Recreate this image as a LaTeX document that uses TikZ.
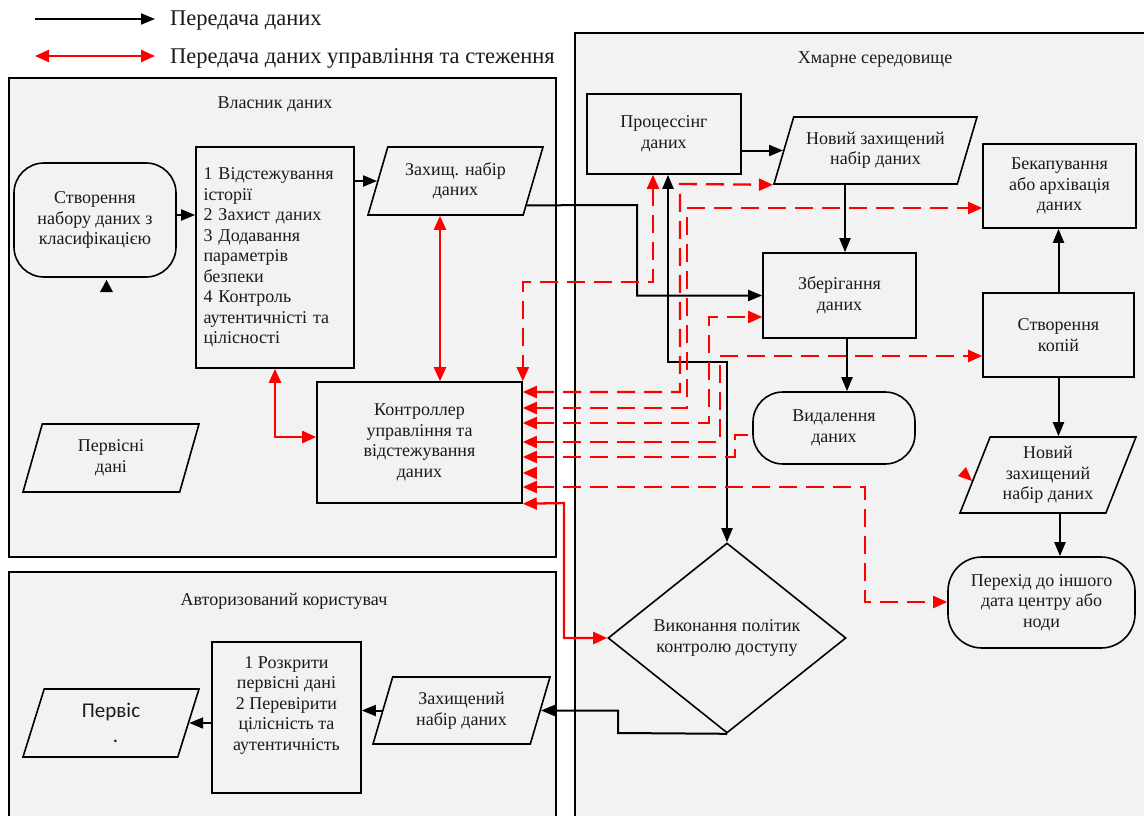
\documentclass[tikz,border=0pt]{standalone}
\usepackage{fontspec}
\setmainfont{Liberation Serif}
\newfontfamily\calibrifont{Carlito}
\usetikzlibrary{shapes.geometric,arrows.meta,calc}
\definecolor{panel}{HTML}{F2F2F2}
\definecolor{ctlred}{HTML}{FF0000}
\definecolor{ink}{HTML}{1A1A1A}

\tikzset{
  bodytext/.style={font=\fontsize{18}{20.5}\selectfont, text=ink},
  container/.style={draw=black, line width=1.6pt, fill=panel, rectangle, inner sep=0pt},
  titletext/.style={font=\fontsize{18}{21}\selectfont, text=ink, inner sep=0pt},
  legendtext/.style={font=\fontsize{22.5}{26}\selectfont, text=ink, inner sep=0pt, anchor=west},
  shapebox/.style={draw=black, line width=1.6pt, fill=panel, inner sep=1pt, align=center, bodytext},
  rectbox/.style={shapebox, rectangle},
  stadium/.style={shapebox, rectangle, rounded corners=#1},
  para/.style={shapebox, trapezium, trapezium left angle=63, trapezium right angle=117,
               trapezium stretches body},
  sz/.style 2 args={minimum width=#1, minimum height=#2},
  tipb/.tip={Triangle[length=14pt,width=11pt]},
  tipr/.tip={Triangle[length=14pt,width=12pt]},
  blk/.style={draw=black, line width=2pt, -tipb},
  blkboth/.style={draw=black, line width=2pt, tipb-tipb},
  rdboth/.style={draw=ctlred, line width=2.3pt, tipr-tipr},
  rddash/.style={rdboth, dash pattern=on 18pt off 9pt},
  rddashone/.style={draw=ctlred, line width=2.3pt, tipr-, dash pattern=on 18pt off 9pt},
  rdonly/.style={draw=ctlred, line width=2.3pt, -tipr},
}

\begin{document}
\begin{tikzpicture}[x=1pt,y=-1pt]
\useasboundingbox (0,0) rectangle (1144,816);
\clip (0,0) rectangle (1144,816);

% legend
\coordinate (la) at (35,19);
\coordinate (lb) at (155,19);
\coordinate (lc) at (35,56);
\coordinate (ld) at (155,56);
\draw[blk] (la) -- (lb);
\draw[rdboth] (lc) -- (ld);
\node[legendtext] (lone) at (170,21) {Передача даних};
\node[legendtext] (ltwo) at (170,58) {Передача даних управління та стеження};

% swimlanes
\node[container, sz={547}{479}] (own) at (282.5,317.5) {};
\node[container, sz={547}{262}] (usr) at (282.5,703) {};
\node[container, sz={580}{802}] (cloud) at (865,434) {};
\node[titletext] (ownt) at (275,104) {Власник даних};
\node[titletext] (usrt) at (284,601) {Авторизований користувач};
\node[titletext] (cloudt) at (875,60) {Хмарне середовище};

% data owner
\node[stadium=30pt, sz={162}{114}] (create) at (95,220) {Створення\\набору даних з\\класифікацією};
\node[rectbox, sz={158}{221}, align=left, text width=143] (steps) at (275,257.5)
  {1 Відстежування\\історії\\2 Захист даних\\3 Додавання\\параметрів\\безпеки\\4 Контроль\\аутентичністі та\\цілісності};
\node[para, sz={175}{68}] (zn) at (455.5,181) {Захищ. набір\\даних};
\node[para, sz={176}{68}] (prim) at (111,458) {Первісні\\дані};
\node[rectbox, sz={205}{121}] (ctrl) at (419.5,442.5) {Контроллер\\управління та\\відстежування\\даних};

% cloud
\node[rectbox, sz={154}{80}] (proc) at (664,134) {Процессінг\\даних};
\node[para, sz={203}{67}] (nz1) at (875.5,150.5) {Новий захищений\\набір даних};
\node[rectbox, sz={153}{84}] (backup) at (1059.5,186) {Бекапування\\або архівація\\даних};
\node[rectbox, sz={153}{85}] (store) at (839.5,295.5) {Зберігання\\даних};
\node[stadium=30pt, sz={162}{72}] (del) at (834,428) {Видалення\\даних};
\node[rectbox, sz={151}{84}] (copies) at (1058.5,335) {Створення\\копій};
\node[para, sz={176}{76}] (nz2) at (1048,475) {Новий\\захищений\\набір даних};
\node[stadium=34pt, sz={187}{91}] (move) at (1041.5,602.5) {Перехід до іншого\\дата центру або\\ноди};
\node[shapebox, diamond, sz={238}{190}, inner sep=0pt] (policy) at (727,638) {Виконання політик\\контролю доступу};

% authorised user
\node[rectbox, sz={149}{151}] (dec) at (286.5,717.5) {1 Розкрити\\первісні дані\\2 Перевірити\\цілісність та\\аутентичність\\[8pt]};
\node[para, sz={177}{67}] (zu) at (461.5,710.5) {Захищений\\набір даних};
\node[para, sz={176}{68}, font=\calibrifont\fontsize{21}{25}\selectfont] (orig) at (111,723) {Первіс\\\hspace*{9pt}.};

% data flow
\draw[blk] (create.east |- 0,215) -- (steps.west |- 0,215);
\draw[blk] (steps.east |- zn.west) -- (zn.west);
\draw[blk] ($(zn.bottom right corner)!0.15!(zn.top right corner)$) -- (637,205) |- (store.west);
\draw[blk] (proc.east |- nz1.west) -- (nz1.west);
\draw[blk] (nz1.south -| 845,0) -- (store.north -| 845,0);
\draw[blk] (store.south -| 847,0) -- (del.north -| 847,0);
\draw[blk] (copies.north) -- (copies.north |- backup.south);
\draw[blk] (copies.south) -- (copies.south |- nz2.north);
\draw[blk] (nz2.south -| 1060,0) -- (move.north -| 1060,0);
\draw[blkboth] (proc.south -| 668,0) -- (668,362) -| (policy.north);
\draw[blk] (policy.south) -- (618,733) |- (zu.east);
\draw[blk] (zu.west) -- (dec.east |- zu.west);
\draw[blk] (dec.west |- orig.east) -- (orig.east);

% control and monitoring
\draw[rdboth] (zn.south -| 440,0) -- (ctrl.north -| 440,0);
\draw[rdboth] (steps.south) |- (ctrl.west |- 0,437);
\draw[rdboth] (ctrl.south east) -- (564,503) |- (policy.west);
\draw[rddash] (proc.south -| 653,0) -- (653,282) -| (ctrl.north east);
\draw[rddash] (ctrl.east |- 0,392) -| (680,184) -- (nz1.bottom left corner);
\draw[rddash] (ctrl.east |- 0,408) -| (687,208) -- (backup.west |- 0,208);
\draw[rddash] (ctrl.east |- 0,423) -| (709,317) -- (store.west |- 0,317);
\draw[rddash] (ctrl.east |- 0,442) -| (720,356) -- (copies.west |- 0,356);
\draw[rddashone] (ctrl.east |- 0,457) -| (735,435) -- (del.west |- 0,435);
\draw[rdonly] ($(ctrl.east |- 0,473)+(14,0)$) -- (ctrl.east |- 0,473);
\draw[rddash] (ctrl.east |- 0,487) -| (865,602) -- (move.west |- 0,602);

% loose arrow heads
\fill[black] (100,292) -- (113,292) -- (106.5,280) -- cycle;
\fill[ctlred] (958,476) -- (966,467) -- (972,481) -- cycle;
\end{tikzpicture}
\end{document}
